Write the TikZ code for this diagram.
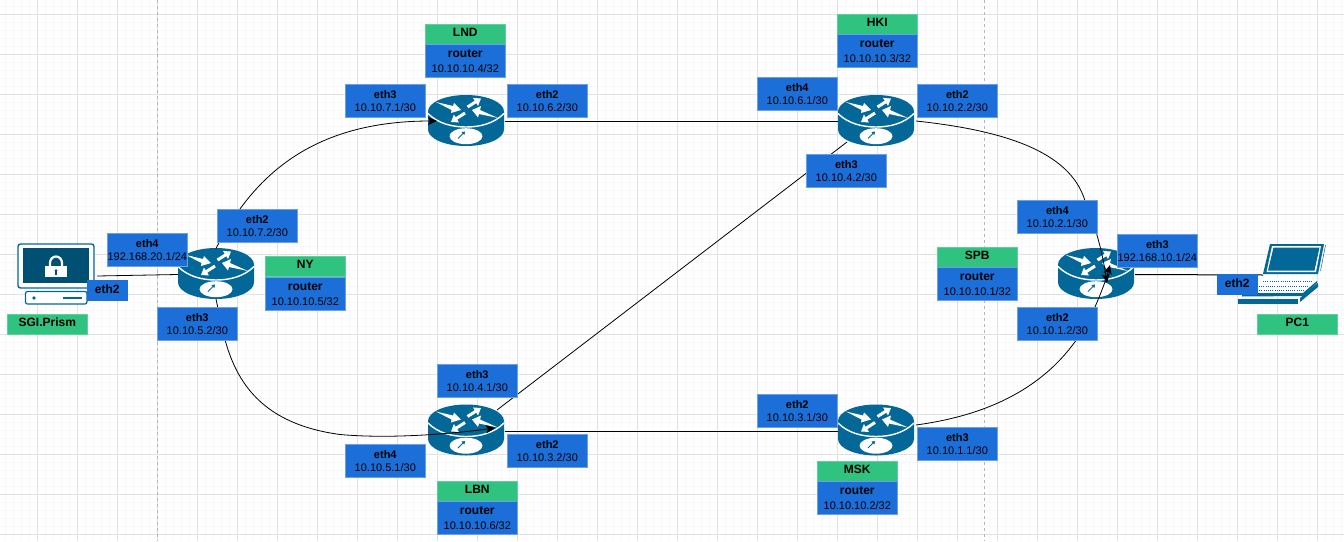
\documentclass[tikz,border=0pt]{standalone}
\usepackage{fontspec}
\setmainfont{Liberation Sans}
\usetikzlibrary{calc,arrows.meta}
\definecolor{gmaj}{HTML}{E2E2E2}
\definecolor{gmin}{HTML}{F8F8F8}
\definecolor{dashc}{HTML}{B4B4B4}
\definecolor{ifblue}{HTML}{1C6ED9}
\definecolor{ifedge}{HTML}{6C9FE3}
\definecolor{tagg}{HTML}{30C27F}
\definecolor{tage}{HTML}{5CD19D}
\definecolor{teal}{HTML}{036897}
\definecolor{deep}{HTML}{005073}
\tikzset{
  x=1pt,y=-1pt,
  basebox/.style={rectangle,inner sep=0pt,draw=ifedge,line width=.7pt,fill=ifblue,text=black,align=center,anchor=center},
  ifbox/.style={basebox,minimum width=80pt,minimum height=33pt,font=\fontsize{11}{13.4}\selectfont},
  portbox/.style={basebox,minimum width=40pt,minimum height=20pt,font=\fontsize{12}{14}\selectfont\bfseries,draw=ifblue,text height=8.6pt,text depth=3.6pt},
  infobox/.style={basebox,minimum width=80pt,minimum height=33pt,draw=ifedge,font=\fontsize{11}{15.4}\selectfont},
  tagbox/.style={rectangle,inner sep=0pt,draw=tage,line width=.7pt,fill=tagg,text=black,minimum width=80pt,minimum height=20pt,font=\fontsize{12}{14}\selectfont\bfseries,text height=8.6pt,text depth=4.6pt},
  hub/.style={rectangle,inner sep=0pt,minimum width=76pt,minimum height=51pt},
  host/.style={rectangle,inner sep=0pt,minimum width=79pt,minimum height=60pt},
  link/.style={black,line width=.8pt},
  straightlink/.style={black,line width=1pt},
  tip/.style={-{Stealth[length=9pt,width=8pt,inset=2pt]}},
  wa/.style={white,line width=3pt,-{Triangle[length=6.5pt,width=9pt]}},
  router/.pic={
    \fill[teal] (-38,-9) arc[start angle=180,end angle=0,x radius=38pt,y radius=16.5pt]
      -- (38,9) arc[start angle=0,end angle=-180,x radius=38pt,y radius=16.5pt] -- cycle;
    \draw[white,line width=1.4pt] (-38,-7) .. controls (-28,3) and (-14,6.5) .. (0,6.5)
      .. controls (14,6.5) and (28,3) .. (38,-7);
    \fill[white] (0,15.7) ellipse[x radius=16.5pt,y radius=8pt];
    \draw[teal,line width=1pt,-{Triangle[length=3pt,width=4pt]}] (-8,18) -- (-1,11);
    \fill[white] (-30,-18.5) -- (-13,-14.5) -- (-12,-17.5) -- (-5,-10.5) -- (-15,-7.5) -- (-14.5,-10.5) -- cycle;
    \draw[wa] (1.5,-13.5) -- (15,-22);
    \fill[white] (32,-2.5) -- (14,-10.5) -- (15,-14.5) -- (6,-10.5) -- (12,-3) -- (13,-6.5) -- cycle;
    \draw[wa] (-1,-7.5) -- (-15,1.5);
  }
}
\begin{document}
\begin{tikzpicture}
\useasboundingbox (0,0) rectangle (1344,541);
\fill[white] (0,0) rectangle (1344,541);
% grid
\foreach \k in {0,...,168} \draw[gmin,line width=1pt] ({5.5+8*\k},0) -- ({5.5+8*\k},541);
\foreach \k in {0,...,68} \draw[gmin,line width=1pt] (0,{6.5+8*\k}) -- (1344,{6.5+8*\k});
\foreach \k in {0,...,33} \draw[gmaj,line width=1pt] ({37.5+40*\k},0) -- ({37.5+40*\k},541);
\foreach \k in {0,...,13} \draw[gmaj,line width=1pt] (0,{14.5+40*\k}) -- (1344,{14.5+40*\k});
\coordinate (da) at (157.5,0); \coordinate (db) at (157.5,541);
\coordinate (dc) at (984.5,0); \coordinate (dd) at (984.5,541);
\draw[dashc,line width=1pt,dash pattern=on 3pt off 3pt] (da) -- (db);
\draw[dashc,line width=1pt,dash pattern=on 3pt off 3pt] (dc) -- (dd);
% hubs
\node[hub] (ny)  at (216,273.5) {};
\node[hub] (lnd) at (466,120.5) {};
\node[hub] (hki) at (876,120.5) {};
\node[hub] (lbn) at (466,430) {};
\node[hub] (msk) at (876,430) {};
\node[hub] (spb) at (1096,273.5) {};
\foreach \r in {ny,lnd,hki,lbn,msk,spb} \pic at (\r) {router};
% hosts
\node[host] (sgi) at (57.5,274) {};
\node[host] (pc) at (1293,275) {};
% SGI icon
\begin{scope}[shift={(sgi.center)},x=1pt,y=-1pt]
  \draw[teal,line width=1.4pt,fill=white,rounded corners=2.5pt] (-39.5,-30) rectangle (36.5,14);
  \fill[deep] (-35,-26) rectangle (31.5,9);
  \draw[white,line width=2.2pt] (-7.5,-7) -- (-7.5,-11) arc[start angle=180,end angle=0,x radius=6pt,y radius=6.5pt] -- (4.5,-7);
  \fill[white] (-12.5,-8) rectangle (9.5,3);
  \fill[deep] (-1.5,-3.5) circle[radius=1.5pt];
  \fill[deep] (-2.1,-3) rectangle (-.9,0.5);
  \draw[teal,line width=1.2pt,fill=white,rounded corners=2pt] (-32,17.5) rectangle (29.5,30);
  \fill[teal] (-23.5,24) circle[radius=1.8pt];
  \fill[teal] (5.5,23) rectangle (24.5,25);
\end{scope}
% PC icon
\begin{scope}[shift={(pc.center)},x=1pt,y=-1pt]
  \fill[teal] (-30,-1) -- (-23,-31) -- (31,-31) -- (25,-1) -- cycle;
  \fill[white] (-26.5,-3) -- (-21,-29) -- (28,-29) -- (23,-3) -- cycle;
  \fill[teal] (-25,-4.5) -- (-19.5,-27.5) -- (26.5,-27.5) -- (21.5,-4.5) -- cycle;
  \draw[teal,line width=.5pt] (32.5,-30) -- (27.5,-4);
  \fill[white] (-30,2) -- (24,2) -- (10,17) -- (-36,17) -- cycle;
  \foreach \yy/\a/\b in {6/-30/20,11/-34/16,15/-36/12}
    \draw[teal,line width=.9pt,dash pattern=on 1pt off 1.2pt] (\a,\yy) -- (\b,\yy);
  \fill[teal] (-51,18) -- (10,18) -- (24,6) -- (24,8) -- (11,21) -- (-51,21.5) -- cycle;
  \fill[teal] (-55,24) rectangle (5,29);
  \fill[teal] (7,23) -- (25,8) -- (25,12) -- (7,27) -- cycle;
\end{scope}
% connectors
\draw[link,tip] ($(ny)+(0,-25)$) .. controls (252,178) and (310,121) .. ($(lnd)+(-29,.5)$);
\draw[link,tip] ($(ny)+(0,25.5)$) .. controls (226,345) and (232,420) .. (340,434.5) .. controls (390,439) and (450,434) .. ($(lbn)+(29,-2)$);
\draw[straightlink] ($(lnd)+(38.5,.5)$) -- ($(hki)+(-38,.5)$);
\draw[straightlink] ($(lbn)+(38.5,1)$) -- ($(msk)+(-38,1)$);
\draw[link] ($(lbn)+(31,-20)$) -- ($(hki)+(-29,21.5)$);
\draw[link,tip] ($(hki)+(40,.5)$) .. controls (1000,130) and (1070,150) .. (1085,201) .. controls (1095,225) and (1102,250) .. ($(spb)+(11,9.5)$);
\draw[link,tip] ($(msk)+(40,-5)$) .. controls (990,415) and (1060,385) .. (1095,307) .. controls (1101,293) and (1106,280) .. ($(spb)+(14,-8.5)$);
\draw[link] (sgi.east) ++(0,2) -- ($(ny)+(-38,1)$);
\draw[straightlink] ($(spb)+(39,1)$) -- ($(pc)+(-30,0)$);
\begin{scope}[shift={(-.7,-.2)}]
% interface boxes
\node[ifbox] (a1) at (148,250.5) {\textbf{eth4}\\192.168.20.1/24};
\node[ifbox] (a2) at (258,226.5) {\textbf{eth2}\\10.10.7.2/30};
\node[ifbox] (a3) at (198,324.5) {\textbf{eth3}\\10.10.5.2/30};
\node[portbox] (a4) at (108,291) {eth2};
\node[ifbox] (b1) at (386,101) {\textbf{eth3}\\10.10.7.1/30};
\node[ifbox] (b2) at (548,101) {\textbf{eth2}\\10.10.6.2/30};
\node[ifbox] (c1) at (478,381) {\textbf{eth3}\\10.10.4.1/30};
\node[ifbox] (c2) at (548,451) {\textbf{eth2}\\10.10.3.2/30};
\node[ifbox] (c3) at (386,461) {\textbf{eth4}\\10.10.5.1/30};
\node[ifbox] (d1) at (798,94.5) {\textbf{eth4}\\10.10.6.1/30};
\node[ifbox] (d2) at (958,101) {\textbf{eth2}\\10.10.2.2/30};
\node[ifbox] (d3) at (847,171) {\textbf{eth3}\\10.10.4.2/30};
\node[ifbox] (e1) at (798,411) {\textbf{eth2}\\10.10.3.1/30};
\node[ifbox] (e2) at (958,444.5) {\textbf{eth3}\\10.10.1.1/30};
\node[ifbox] (f1) at (1058,217.5) {\textbf{eth4}\\10.10.2.1/30};
\node[ifbox] (f2) at (1158,251) {\textbf{eth3}\\192.168.10.1/24};
\node[ifbox] (f3) at (1058,324.5) {\textbf{eth2}\\10.10.1.2/30};
\node[portbox] (f4) at (1238,285) {eth2};
% info boxes
\node[tagbox] (t1) at (306,267) {NY};
\node[infobox] (i1) at (306,294.5) {{\fontsize{12}{15.4}\selectfont\bfseries router}\\10.10.10.5/32};
\node[tagbox] (t2) at (466,35) {LND};
\node[infobox] (i2) at (466,61.5) {{\fontsize{12}{15.4}\selectfont\bfseries router}\\10.10.10.4/32};
\node[tagbox] (t3) at (878,25) {HKI};
\node[infobox] (i3) at (878,51.5) {{\fontsize{12}{15.4}\selectfont\bfseries router}\\10.10.10.3/32};
\node[tagbox] (t4) at (478,492) {LBN};
\node[infobox] (i4) at (478,518.5) {{\fontsize{12}{15.4}\selectfont\bfseries router}\\10.10.10.6/32};
\node[tagbox] (t5) at (858,472) {MSK};
\node[infobox] (i5) at (858,498.5) {{\fontsize{12}{15.4}\selectfont\bfseries router}\\10.10.10.2/32};
\node[tagbox] (t6) at (978,258) {SPB};
\node[infobox] (i6) at (978,284.5) {{\fontsize{12}{15.4}\selectfont\bfseries router}\\10.10.10.1/32};
\node[tagbox] (t7) at (48,324.5) {SGI.Prism};
\node[tagbox] (t8) at (1298,324.5) {PC1};
\end{scope}
\end{tikzpicture}
\end{document}
